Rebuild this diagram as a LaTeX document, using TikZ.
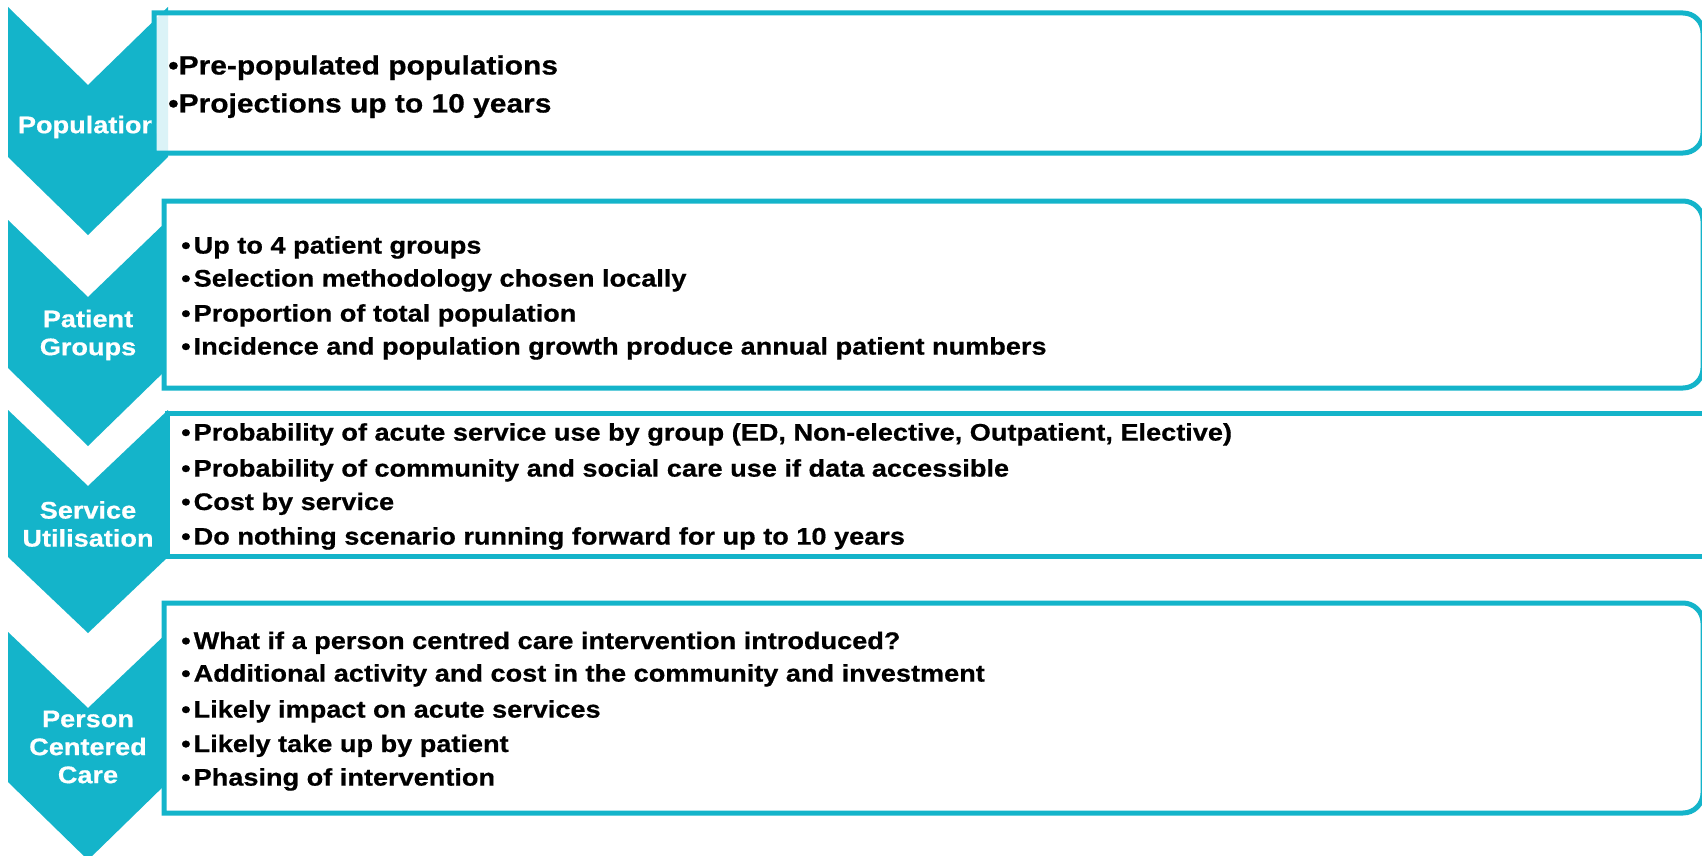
\documentclass[tikz,border=0pt]{standalone}
\usepackage{fontspec}
\setmainfont{Liberation Sans}[FakeStretch=1.13, BoldFeatures={FakeBold=0.6}]
\definecolor{tealc}{RGB}{20,180,202}
\newcommand{\bul}{•\hspace{3pt}}
\begin{document}
\begin{tikzpicture}[x=1pt,y=-1pt,
  chev/.style={fill=tealc},
  panel/.style={draw=tealc, line width=5pt, fill=white},
  lbl/.style={text=white, font=\fontsize{24}{28}\selectfont\bfseries, align=center, inner sep=0pt},
  item/.style={anchor=base west, inner sep=0pt, font=\fontsize{24}{28}\selectfont\bfseries, text=black},
  bigitem/.style={item, font=\fontsize{26.5}{30}\selectfont\bfseries}]
\useasboundingbox (0,0) rectangle (1702,856);
\fill[white] (0,0) rectangle (1702,856);

% chevrons
\fill[chev] (8,7) -- (88,85) -- (168,7) -- (168,157) -- (88,235) -- (8,157) -- cycle;
\fill[chev] (8,220) -- (88,297) -- (168,220) -- (168,368) -- (88,446) -- (8,368) -- cycle;
\fill[chev] (8,410) -- (88,486) -- (168,410) -- (168,557) -- (88,633) -- (8,557) -- cycle;
\fill[chev] (8,632) -- (88,708) -- (168,632) -- (168,782) -- (88,860) -- (8,782) -- cycle;

% stage labels
\node[lbl] (l1) at (88,127) {Population};
\node[lbl] (l2) at (88,335) {Patient\\Groups};
\node[lbl] (l3) at (88,524) {Service\\Utilisation};
\node[lbl] (l4) at (88,747) {Person\\Centered\\Care};

% panels
\draw[panel, fill opacity=0.85] (154,153) -- (154,13) -- (1683,13) arc[start angle=90, end angle=0, radius=20pt]
  -- (1703,133) arc[start angle=0, end angle=-90, radius=20pt] -- cycle;
\draw[panel] (164,388) -- (164,201) -- (1683,201) arc[start angle=90, end angle=0, radius=20pt]
  -- (1703,368) arc[start angle=0, end angle=-90, radius=20pt] -- cycle;
\draw[panel] (167,556) -- (167,413) -- (1730,413) -- (1730,556) -- cycle;
\draw[panel] (164,813) -- (164,603) -- (1683,603) arc[start angle=90, end angle=0, radius=20pt]
  -- (1703,793) arc[start angle=0, end angle=-90, radius=20pt] -- cycle;

% panel texts
\node[bigitem] (a1) at (168,74.5) {•Pre-populated populations};
\node[bigitem] (a2) at (168,112.5) {•Projections up to 10 years};

\node[item] (b1) at (181,253.6) {\bul Up to 4 patient groups};
\node[item] (b2) at (181,286.6) {\bul Selection methodology chosen locally};
\node[item] (b3) at (181,321.6) {\bul Proportion of total population};
\node[item] (b4) at (181,354.6) {\bul Incidence and population growth produce annual patient numbers};

\node[item] (c1) at (181,440.6) {\bul Probability of acute service use by group (ED, Non-elective, Outpatient, Elective)};
\node[item] (c2) at (181,476.6) {\bul Probability of community and social care use if data accessible};
\node[item] (c3) at (181,510) {\bul Cost by service};
\node[item] (c4) at (181,544.6) {\bul Do nothing scenario running forward for up to 10 years};

\node[item] (d1) at (181,649) {\bul What if a person centred care intervention introduced?};
\node[item] (d2) at (181,681.6) {\bul Additional activity and cost in the community and investment};
\node[item] (d3) at (181,717.6) {\bul Likely impact on acute services};
\node[item] (d4) at (181,752) {\bul Likely take up by patient};
\node[item] (d5) at (181,785.6) {\bul Phasing of intervention};
\end{tikzpicture}
\end{document}
